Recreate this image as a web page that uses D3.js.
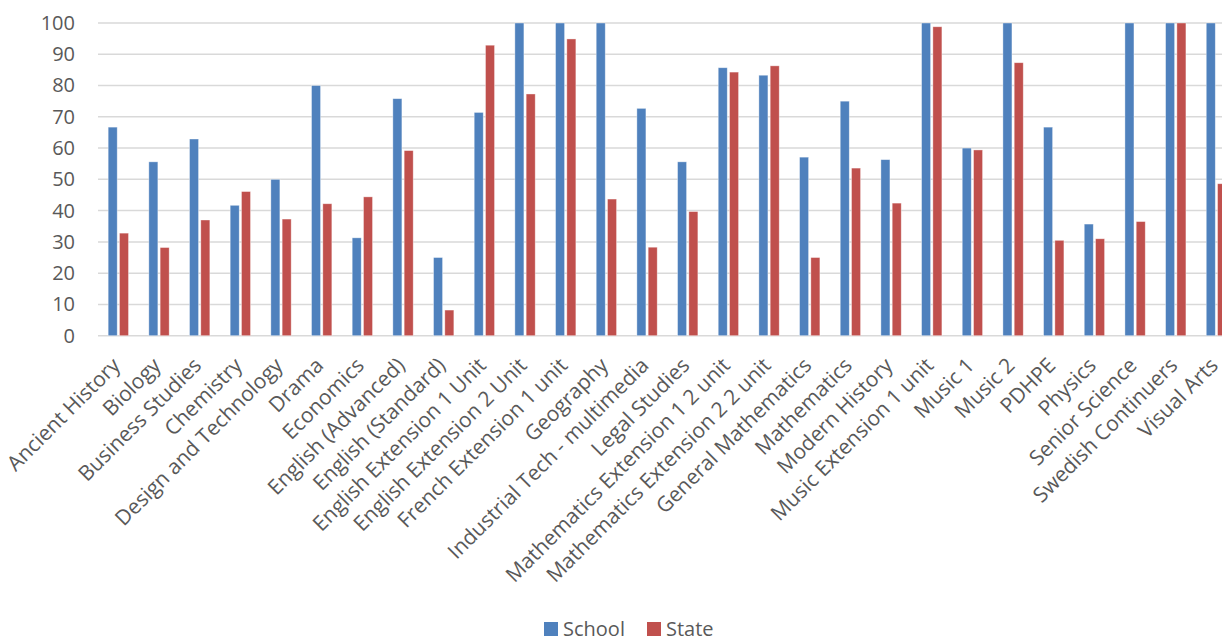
<!DOCTYPE html>
<html>
<head>
<meta charset="utf-8">
<script src="https://cdn.jsdelivr.net/npm/d3@7"></script>
<style>
  html, body { margin: 0; padding: 0; background: #fff; overflow: hidden; }
  svg text { font-family: "Open Sans", sans-serif; fill: #595959; }
</style>
</head>
<body>
<svg id="chart" width="1222" height="636"></svg>
<script>
// Data
var categories = [
  "Ancient History", "Biology", "Business Studies", "Chemistry", "Design and Technology",
  "Drama", "Economics", "English (Advanced)", "English (Standard)", "English Extension 1 Unit",
  "English Extension 2 Unit", "French Extension 1 unit", "Geography", "Industrial Tech - multimedia",
  "Legal Studies", "Mathematics Extension 1 2 unit", "Mathematics Extension 2 2 unit",
  "General Mathematics", "Mathematics", "Modern History", "Music Extension 1 unit", "Music 1",
  "Music 2", "PDHPE", "Physics", "Senior Science", "Swedish Continuers", "Visual Arts"
];
var schoolValues = [66.7, 55.6, 62.9, 41.7, 50, 80, 31.3, 75.8, 25, 71.4, 100, 100, 100, 72.7,
  55.6, 85.7, 83.3, 57.1, 75, 56.3, 100, 60, 100, 66.7, 35.7, 100, 100, 100];
var stateValues = [32.8, 28.2, 37.0, 46.1, 37.3, 42.2, 44.4, 59.2, 8.2, 92.9, 77.3, 94.9, 43.7, 28.3,
  39.7, 84.3, 86.3, 25.0, 53.6, 42.4, 98.8, 59.4, 87.3, 30.5, 31.0, 36.5, 100, 48.6];
var seriesNames = ["School", "State"];
var seriesColors = ["#4F81BD", "#C0504D"];
var yTicks = [0, 10, 20, 30, 40, 50, 60, 70, 80, 90, 100];

// Layout
var margin = { left: 98, top: 23 };
var plotW = 28 * 40.67;
var plotH = 312.7;

var svg = d3.select("#chart");
var g = svg.append("g").attr("transform", "translate(" + margin.left + "," + margin.top + ")");

var x0 = d3.scaleBand().domain(categories).range([0, plotW]).paddingInner(0.5).paddingOuter(0.25);
var x1 = d3.scaleBand().domain(seriesNames).range([0, x0.bandwidth()]).paddingInner(0.2);
var y = d3.scaleLinear().domain([0, 100]).range([plotH, 0]);

// Gridlines
g.selectAll("line.grid").data(yTicks).enter().append("line")
  .attr("class", "grid")
  .attr("x1", 0).attr("x2", plotW + 20)
  .attr("y1", function (d) { return y(d); })
  .attr("y2", function (d) { return y(d); })
  .attr("stroke", "#D9D9D9").attr("stroke-width", 1.5);

// Y axis labels
var yAxis = d3.axisLeft(y).tickValues(yTicks).tickSize(0).tickPadding(23);
var yG = g.append("g").call(yAxis);
yG.select(".domain").remove();
yG.selectAll("text").style("font-size", "20px").style("fill", "#595959");

// Bars
var rows = categories.map(function (c, i) {
  return { cat: c, vals: [schoolValues[i], stateValues[i]] };
});
var groups = g.selectAll("g.grp").data(rows).enter().append("g")
  .attr("class", "grp")
  .attr("transform", function (d) { return "translate(" + x0(d.cat) + ",0)"; });
groups.selectAll("rect").data(function (d) {
  return d.vals.map(function (v, k) { return { key: seriesNames[k], v: v, k: k }; });
}).enter().append("rect")
  .attr("x", function (d) { return x1(d.key); })
  .attr("width", x1.bandwidth())
  .attr("y", function (d) { return y(d.v); })
  .attr("height", function (d) { return plotH - y(d.v); })
  .attr("fill", function (d) { return seriesColors[d.k]; })
  .attr("stroke", "#fff").attr("stroke-opacity", 0.5).attr("stroke-width", 0.75);

// Category labels (rotated, end anchored just right of the group centre)
g.selectAll("text.cat").data(categories).enter().append("text")
  .attr("class", "cat")
  .attr("text-anchor", "end")
  .attr("transform", function (d) {
    return "translate(" + (x0(d) + x0.bandwidth() / 2 + 3) + "," + (plotH + 31) + ") rotate(-45)";
  })
  .style("font-size", "21px")
  .text(function (d) { return d; });

// Legend
var legend = svg.append("g").attr("transform", "translate(544,622)");
var items = legend.selectAll("g").data(seriesNames).enter().append("g")
  .attr("transform", function (d, i) { return "translate(" + (i * 103) + ",0)"; });
items.append("rect").attr("width", 14).attr("height", 14)
  .attr("fill", function (d, i) { return seriesColors[i]; });
items.append("text").attr("x", 19).attr("y", 14)
  .style("font-size", "20px")
  .text(function (d) { return d; });
</script>
</body>
</html>
